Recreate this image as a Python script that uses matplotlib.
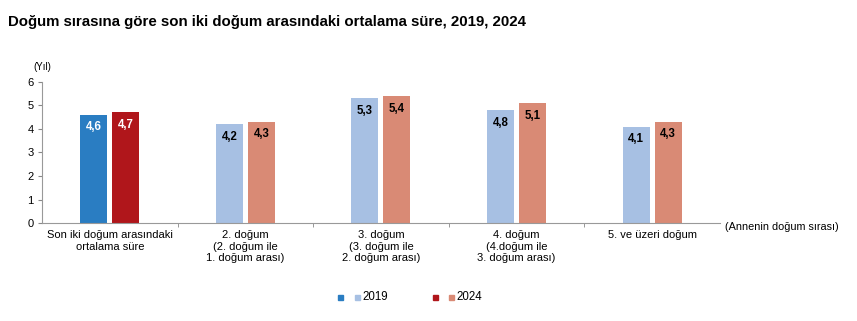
import matplotlib
matplotlib.use("Agg")
import matplotlib.pyplot as plt
from matplotlib.patches import Rectangle
import numpy as np

plt.rcParams['font.family'] = ['Liberation Sans', 'DejaVu Sans']

categories = ["Son iki doğum arasındaki\nortalama süre",
              "2. doğum\n(2. doğum ile\n1. doğum arası)",
              "3. doğum\n(3. doğum ile\n2. doğum arası)",
              "4. doğum\n(4.doğum ile\n3. doğum arası)",
              "5. ve üzeri doğum"]
values_2019 = [4.6, 4.2, 5.3, 4.8, 4.1]
values_2024 = [4.7, 4.3, 5.4, 5.1, 4.3]
labels_2019 = ["4,6", "4,2", "5,3", "4,8", "4,1"]
labels_2024 = ["4,7", "4,3", "5,4", "5,1", "4,3"]

c2019 = ["#2A7DC2", "#A7C0E3", "#A7C0E3", "#A7C0E3", "#A7C0E3"]
c2024 = ["#B0161B", "#D98A75", "#D98A75", "#D98A75", "#D98A75"]
txtcol = ["white", "black", "black", "black", "black"]

fig = plt.figure(figsize=(8.57, 3.21), dpi=100)
ax = fig.add_axes([0.049, 0.305, 0.791, 0.44])

x = np.arange(len(categories))
w = 0.2
off = 0.118
b1 = ax.bar(x - off, values_2019, width=w, color=c2019)
b2 = ax.bar(x + off, values_2024, width=w, color=c2024)
for i in range(len(x)):
    ax.text(x[i] - off, values_2019[i] - 0.28, labels_2019[i], ha='center', va='top',
            fontsize=8.3, fontweight='bold', color=txtcol[i])
    ax.text(x[i] + off, values_2024[i] - 0.28, labels_2024[i], ha='center', va='top',
            fontsize=8.3, fontweight='bold', color=txtcol[i])

ax.set_xlim(-0.5, len(categories) - 0.5)
ax.set_ylim(0, 6)
ax.set_yticks(range(0, 7))
ax.tick_params(axis='y', labelsize=8, length=3, color='#888888', pad=3)
ax.set_xticks(x)
ax.set_xticklabels(categories, fontsize=8)
ax.tick_params(axis='x', length=0, pad=5)
ax.set_xticks(np.arange(0.5, len(categories) - 0.5, 1), minor=True)
ax.tick_params(axis='x', which='minor', length=3, color='#888888')
for s in ['top', 'right']:
    ax.spines[s].set_visible(False)
for s in ['left', 'bottom']:
    ax.spines[s].set_color('#999999')
    ax.spines[s].set_linewidth(0.8)

fig.text(8 / 857, 1 - 22 / 321, "Doğum sırasına göre son iki doğum arasındaki ortalama süre, 2019, 2024",
         fontsize=10.8, fontweight='bold', va='center', ha='left')
fig.text(42 / 857, 1 - 67 / 321, "(Yıl)", fontsize=7, ha='center', va='center')
fig.text(725 / 857, 1 - 227 / 321, "(Annenin doğum sırası)", fontsize=7.8, ha='left', va='center')

# legend
def sq(xp, col):
    fig.patches.append(Rectangle((xp / 857, 1 - 300 / 321), 5 / 857, 5 / 321,
                                 transform=fig.transFigure, color=col, figure=fig))
sq(338, "#2A7DC2"); sq(355, "#A7C0E3")
fig.text(362 / 857, 1 - 297 / 321, "2019", fontsize=8.3, va='center')
sq(433, "#B0161B"); sq(449, "#D98A75")
fig.text(456 / 857, 1 - 297 / 321, "2024", fontsize=8.3, va='center')

fig.savefig("out.png", dpi=100)
